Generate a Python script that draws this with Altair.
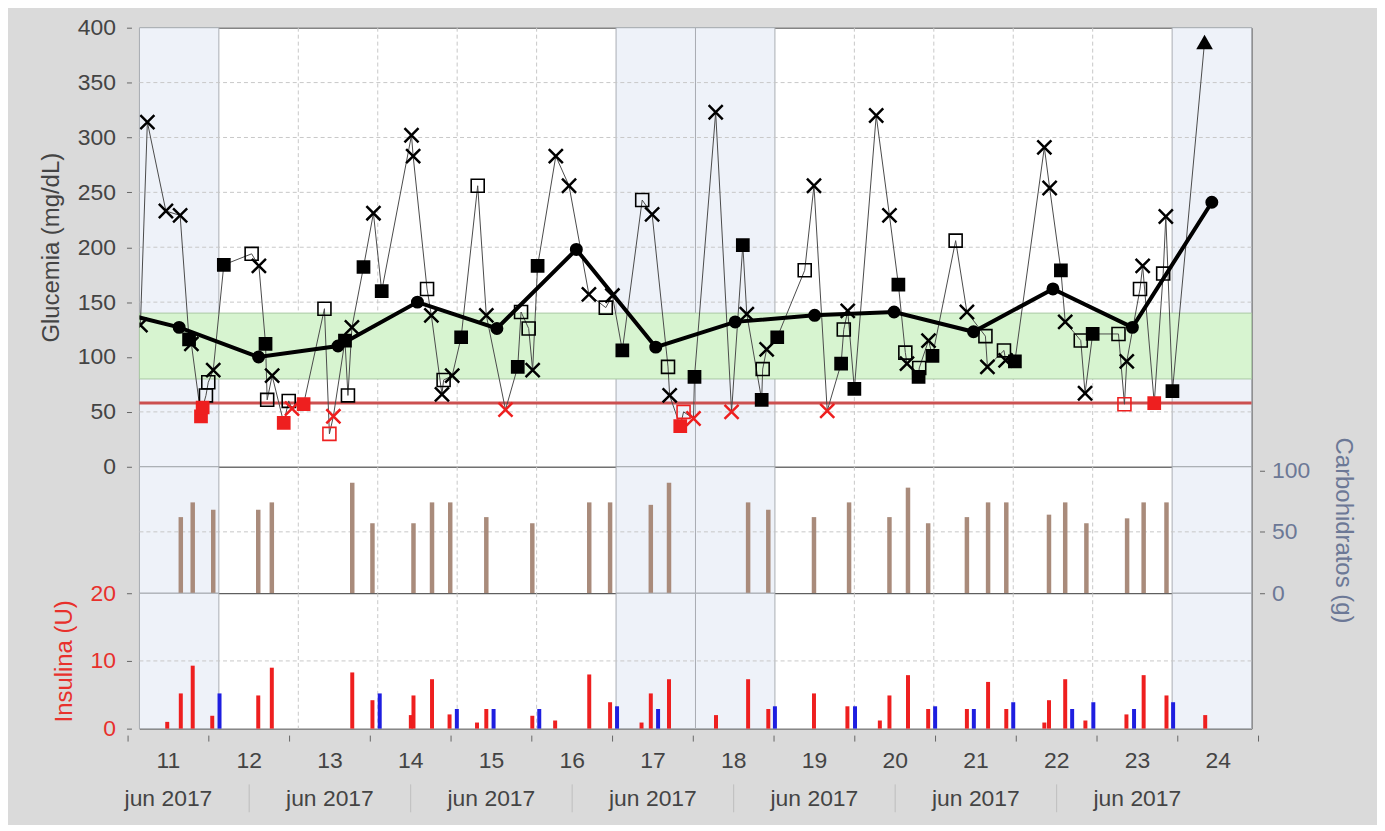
import altair as alt
import pandas as pd

# ---------------- data ----------------
GLU_HOURS = [0.3, 2.4, 8.0, 12.3, 15.0, 15.7, 18.6, 19.1, 20.1, 20.8,
             22.3, 25.5, 33.9, 36.1, 38.1, 38.6, 40.1, 43.6, 45.1, 46.1,
             49.6, 55.9, 57.4, 58.6, 62.1, 63.0, 64.2, 67.7, 70.7, 73.2,
             82.2, 82.7, 86.9, 88.2, 91.4, 91.9, 94.5, 97.2, 102.2, 104.8,
             110.6, 114.3, 115.3, 117.6, 118.8, 120.3, 125.8, 129.8, 135.8, 140.9,
             142.9, 145.9, 151.9, 154.9, 159.7, 160.2, 163.4, 164.4, 167.4, 167.7,
             174.1, 178.9, 182.3, 183.5, 188.0, 188.3, 189.5, 192.7, 201.0, 203.8,
             207.8, 212.0, 212.8, 214.0, 216.0, 222.6, 226.6, 229.3, 231.4, 231.9,
             235.4, 235.6, 238.4, 239.6, 246.6, 250.0, 255.6, 256.2, 261.2, 261.7,
             264.5, 273.4, 275.0, 278.4, 279.7, 284.4, 285.7, 288.0, 295.8, 297.6,
             298.3, 302.3, 303.1, 306.6, 309.3, 310.1, 312.1, 321.8]
GLU_VALUES = [129, 314, 233, 229, 116, 112, 46, 54, 65, 77,
              88, 184, 194, 183, 112, 61, 83, 40, 60, 53,
              57, 144, 30, 46, 115, 65, 127, 182, 231, 160,
              302, 283, 162, 138, 66, 79, 83, 118, 256, 138,
              52, 91, 141, 126, 88, 183, 283, 256, 157, 145,
              156, 106, 243, 230, 91, 65, 37, 50, 44, 82,
              323, 50, 202, 139, 61, 89, 107, 118, 179, 256,
              51, 94, 125, 142, 71, 320, 229, 166, 104, 94,
              82, 90, 115, 101, 206, 141, 119, 91, 106, 97,
              96, 291, 254, 179, 132, 115, 67, 121, 121, 57,
              96, 162, 183, 58, 176, 228, 69, 387]
GLU_KINDS = ["x", "x", "x", "x", "s", "x", "rs", "rs", "o", "o",
             "x", "s", "o", "x", "s", "o", "x", "rs", "o", "rx",
             "rs", "o", "ro", "rx", "s", "o", "x", "s", "x", "s",
             "x", "x", "o", "x", "x", "o", "x", "s", "o", "x",
             "rx", "s", "o", "o", "x", "s", "x", "x", "x", "o",
             "x", "s", "o", "x", "o", "x", "rs", "ro", "rx", "s",
             "x", "rx", "s", "x", "s", "o", "x", "s", "o", "x",
             "rx", "s", "o", "x", "s", "x", "x", "s", "o", "x",
             "s", "o", "x", "s", "o", "x", "o", "x", "o", "x",
             "s", "x", "x", "s", "x", "o", "x", "s", "o", "ro",
             "x", "o", "x", "rs", "o", "x", "s", "t"]

AVG_DAYS = [10, 11, 12, 13, 14, 15, 16, 17, 18, 19, 20, 21, 22, 23, 24]
AVG_VALUES = [145, 127, 100, 110, 150, 126, 198, 109, 132, 138, 141, 123, 162, 127, 241]

CARB_HOURS = [12.5, 16.1, 22.3, 35.9, 40.0, 64.3, 70.4, 82.8, 88.4, 93.9,
              104.8, 118.7, 135.9, 142.2, 154.5, 160.0, 183.9, 190.0, 203.8, 214.4,
              226.6, 232.2, 238.3, 250.0, 256.4, 261.9, 274.8, 279.7, 286.1, 298.4,
              303.4, 310.3]
CARB_GRAMS = [62, 74, 68, 68, 74, 90, 57, 57, 74, 74,
              62, 57, 74, 74, 72, 90, 74, 68, 62, 74,
              62, 86, 57, 62, 74, 74, 64, 74, 57, 61,
              74, 74]

RED_INS_HOURS = [8.4, 12.5, 16.1, 22.0, 35.9, 40.0, 64.3, 70.4, 82.0, 82.8,
                 88.4, 93.7, 102.0, 104.8, 118.7, 125.6, 135.9, 142.2, 151.7, 154.5,
                 160.0, 174.2, 183.9, 190.0, 203.8, 213.9, 223.7, 226.6, 232.2, 238.3,
                 250.0, 256.4, 261.9, 273.4, 274.8, 279.7, 285.8, 298.2, 303.4, 310.3,
                 322.0]
RED_INS_UNITS = [1.0, 5.2, 9.3, 1.9, 4.9, 9.0, 8.3, 4.2, 2.0, 4.9,
                 7.3, 2.1, 0.9, 2.9, 1.9, 1.2, 8.0, 3.9, 0.9, 5.2,
                 7.3, 2.0, 7.3, 2.9, 5.2, 3.3, 1.2, 4.9, 7.9, 2.9,
                 2.9, 6.9, 2.9, 0.9, 4.2, 7.3, 1.2, 2.1, 7.9, 4.9,
                 2.0]
BLUE_INS_HOURS = [24.2, 72.6, 95.9, 107.0, 120.8, 144.3, 156.7, 192.0, 216.2, 240.4,
                  252.1, 264.0, 281.8, 288.2, 300.5, 312.3]
BLUE_INS_UNITS = [5.2, 5.2, 2.9, 2.9, 2.9, 3.3, 2.9, 3.3, 3.3, 3.3,
                  2.9, 3.9, 2.9, 3.9, 2.9, 3.9]

DAY_LABELS = ["11", "12", "13", "14", "15", "16", "17", "18", "19", "20", "21", "22", "23", "24"]
MONTH_LABELS = ["jun 2017", "jun 2017", "jun 2017", "jun 2017", "jun 2017", "jun 2017", "jun 2017"]
WEEKEND_DAYS = [11, 17, 18, 24]
TARGET_RANGE = [80, 140]
HYPO_LIMIT = 58
GLU_TICKS = [0, 50, 100, 150, 200, 250, 300, 350, 400]
CARB_TICKS = [0, 50, 100]
INS_TICKS = [0, 10, 20]

# ---------------- layout / style ----------------
FONT = "Liberation Sans, Arial, Helvetica, sans-serif"
W = 1117
H_GLU, H_CARB, H_INS = 441, 127, 136
X_DOMAIN = [11, 25]
PX_PER_DAY = W / (X_DOMAIN[1] - X_DOMAIN[0])
# the period axis under the chart is drawn slightly shifted / stretched
AXIS_SHIFT = -11.4 / PX_PER_DAY
AXIS_STRETCH = 81.1 / PX_PER_DAY

RED = "#ee1f1f"
BLUE = "#1e1ee0"
GRID = "#c8c8c8"
LABEL = "#444444"
CARB_COL = "#6c7896"
INS_COL = "#e8302c"
X_PATH = "M-1,-1L1,1M1,-1L-1,1"


def day_of(hours):
    return [X_DOMAIN[0] + h / 24 for h in hours]


def axis_t(d):
    return X_DOMAIN[0] + AXIS_SHIFT + AXIS_STRETCH * (d - X_DOMAIN[0])


xs = alt.Scale(domain=X_DOMAIN, nice=False, zero=False)


def xenc(field):
    return alt.X(f"{field}:Q", scale=xs, axis=None)


def make_axis(values, color, orient="left", pad=11, tpad=14):
    return alt.Axis(values=values, orient=orient, grid=False, domain=False, offset=8,
                    tickSize=5, tickColor="#666666", labelColor=color, labelFont=FONT,
                    labelFontSize=23, labelPadding=pad, titleColor=color, titleFont=FONT,
                    titleFontSize=24, titleFontWeight="normal", titlePadding=tpad,
                    labelOverlap=False)


GLU_AXIS = make_axis(GLU_TICKS, LABEL)
CARB_AXIS = make_axis(CARB_TICKS, CARB_COL, orient="right", pad=7, tpad=21)
INS_AXIS = make_axis(INS_TICKS, INS_COL)

glu_scale = alt.Scale(domain=[GLU_TICKS[0], GLU_TICKS[-1]], nice=False)
carb_scale = alt.Scale(domain=[0, 103], nice=False)
ins_scale = alt.Scale(domain=[INS_TICKS[0], INS_TICKS[-1]], nice=False)


def yglu(f):
    return alt.Y(f"{f}:Q", scale=glu_scale, axis=GLU_AXIS, title="Glucemia (mg/dL)")


def ycarb(f):
    return alt.Y(f"{f}:Q", scale=carb_scale, axis=CARB_AXIS, title="Carbohidratos (g)")


def yins(f):
    return alt.Y(f"{f}:Q", scale=ins_scale, axis=INS_AXIS, title="Insulina (U)")


weekend_df = pd.DataFrame({"d0": WEEKEND_DAYS, "d1": [d + 1 for d in WEEKEND_DAYS]})
edges = set(WEEKEND_DAYS) | {d + 1 for d in WEEKEND_DAYS}
vgrid_df = pd.DataFrame({"d": [d for d in range(X_DOMAIN[0] + 1, X_DOMAIN[1]) if d not in edges]})


def backdrop(h):
    wk = alt.Chart(weekend_df).mark_rect(fill="#eef2f9", stroke="#a9adb3", strokeWidth=1).encode(
        x=xenc("d0"), x2="d1:Q", y=alt.value(0), y2=alt.value(h))
    vg = alt.Chart(vgrid_df).mark_rule(color=GRID, strokeDash=[4, 3], strokeWidth=1).encode(
        x=xenc("d"), y=alt.value(0), y2=alt.value(h))
    return [wk, vg]


def hgrid(values, yfn):
    df = pd.DataFrame({"v": values})
    return alt.Chart(df).mark_rule(color=GRID, strokeDash=[4, 3], strokeWidth=1).encode(
        y=yfn("v"), x=alt.value(0), x2=alt.value(W))


# ---------------- glucose panel ----------------
glu_df = pd.DataFrame({"t": day_of(GLU_HOURS), "v": GLU_VALUES, "k": GLU_KINDS})
avg_df = pd.DataFrame({"t": [d + 0.5 for d in AVG_DAYS], "v": AVG_VALUES})
band_df = pd.DataFrame({"v": [TARGET_RANGE[0]], "v2": [TARGET_RANGE[1]]})
hypo_df = pd.DataFrame({"v": [HYPO_LIMIT]})

band = alt.Chart(band_df).mark_rect(fill="#d7f4d0", stroke="#a9c9a4", strokeWidth=1).encode(
    y=yglu("v"), y2="v2:Q", x=alt.value(0), x2=alt.value(W))
hypo = alt.Chart(hypo_df).mark_rule(color="#cc5050", strokeWidth=3).encode(
    y=yglu("v"), x=alt.value(0), x2=alt.value(W))
thin = alt.Chart(glu_df).mark_line(color="#4a4a4a", strokeWidth=1, clip=True).encode(
    x=xenc("t"), y=yglu("v"), order="t:Q")


def markers(kind, **style):
    return alt.Chart(glu_df).transform_filter(alt.datum.k == kind).mark_point(
        clip=True, opacity=1, **style).encode(x=xenc("t"), y=yglu("v"))


mk = [
    markers("o", shape="square", filled=False, color="black", strokeWidth=1.6, size=170),
    markers("s", shape="square", filled=True, color="black", size=190),
    markers("x", shape=X_PATH, filled=False, color="black", strokeWidth=2.5, size=200),
    markers("ro", shape="square", filled=False, color=RED, strokeWidth=1.6, size=170),
    markers("rs", shape="square", filled=True, color=RED, size=190),
    markers("rx", shape=X_PATH, filled=False, color=RED, strokeWidth=2.5, size=200),
    markers("t", shape="triangle-up", filled=True, color="black", size=280),
]
avg_line = alt.Chart(avg_df).mark_line(color="black", strokeWidth=4, clip=True).encode(
    x=xenc("t"), y=yglu("v"))
avg_pts = alt.Chart(avg_df).mark_point(shape="circle", filled=True, color="black", size=170,
                                       opacity=1, clip=True).encode(x=xenc("t"), y=yglu("v"))

glu_panel = alt.layer(*backdrop(H_GLU), hgrid(GLU_TICKS[1:-1], yglu), band, hypo, thin, *mk,
                      avg_line, avg_pts).properties(width=W, height=H_GLU)

# ---------------- carbohydrate panel ----------------
carb_df = pd.DataFrame({"t": day_of(CARB_HOURS), "v": CARB_GRAMS, "z": 0})
carb_bars = alt.Chart(carb_df).mark_rule(color="#a98b7b", strokeWidth=4.5).encode(
    x=xenc("t"), y=ycarb("v"), y2="z:Q")
carb_panel = alt.layer(*backdrop(H_CARB), hgrid([50], ycarb), carb_bars).properties(
    width=W, height=H_CARB)

# ---------------- insulin panel ----------------
red_df = pd.DataFrame({"t": day_of(RED_INS_HOURS), "v": RED_INS_UNITS, "z": 0})
blue_df = pd.DataFrame({"t": day_of(BLUE_INS_HOURS), "v": BLUE_INS_UNITS, "z": 0})
red_bars = alt.Chart(red_df).mark_rule(color=RED, strokeWidth=4).encode(
    x=xenc("t"), y=yins("v"), y2="z:Q")
blue_bars = alt.Chart(blue_df).mark_rule(color=BLUE, strokeWidth=4).encode(
    x=xenc("t"), y=yins("v"), y2="z:Q")

# period axis drawn under the insulin panel
ticks_df = pd.DataFrame({"t": [axis_t(d) for d in range(X_DOMAIN[0], X_DOMAIN[1] + 1)]})
daylab_df = pd.DataFrame({"t": [axis_t(int(s) + 0.5) for s in DAY_LABELS], "lab": DAY_LABELS})
month_df = pd.DataFrame({"t": [axis_t(X_DOMAIN[0] + 0.5 + 2 * i) for i in range(len(MONTH_LABELS))],
                         "lab": MONTH_LABELS})
sep_df = pd.DataFrame({"t": [axis_t(X_DOMAIN[0] + 1.5 + 2 * i) for i in range(len(MONTH_LABELS) - 1)]})

ax_ticks = alt.Chart(ticks_df).mark_rule(color="#666666").encode(
    x=xenc("t"), y=alt.value(H_INS + 7), y2=alt.value(H_INS + 13))
ax_days = alt.Chart(daylab_df).mark_text(font=FONT, fontSize=23, color=LABEL, baseline="alphabetic",
                                          align="center").encode(
    x=xenc("t"), y=alt.value(H_INS + 40), text="lab:N")
ax_months = alt.Chart(month_df).mark_text(font=FONT, fontSize=23, color=LABEL, baseline="alphabetic",
                                           align="center").encode(
    x=xenc("t"), y=alt.value(H_INS + 78), text="lab:N")
ax_seps = alt.Chart(sep_df).mark_rule(color="#bdbdbd").encode(
    x=xenc("t"), y=alt.value(H_INS + 56), y2=alt.value(H_INS + 84))

ins_panel = alt.layer(*backdrop(H_INS), hgrid([10], yins), red_bars, blue_bars,
                      ax_ticks, ax_days, ax_months, ax_seps).properties(width=W, height=H_INS)

chart = alt.vconcat(glu_panel, carb_panel, ins_panel, spacing=0, bounds="flush").properties(
    background="#dadada",
    padding={"left": 31, "top": 6, "right": 22, "bottom": 10},
).configure_view(stroke="#505050", strokeWidth=1, fill="white")

chart.save("out.html", embed_options={"renderer": "svg", "actions": False})
